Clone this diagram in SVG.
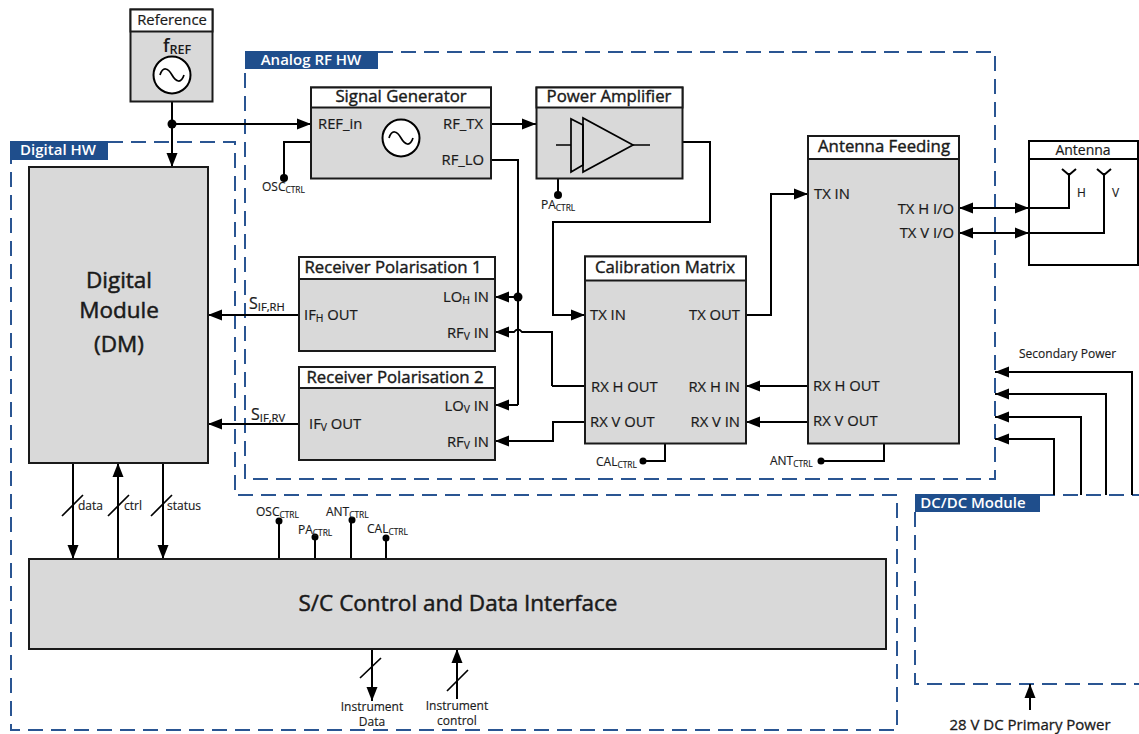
<svg xmlns="http://www.w3.org/2000/svg" width="1139" height="734" viewBox="0 0 1139 734">
<defs>
<marker id="a" markerUnits="userSpaceOnUse" markerWidth="15" markerHeight="12" refX="14" refY="6" orient="auto-start-reverse"><path d="M0 0.500L14 6L0 11.500Z" fill="#000"/></marker>
</defs>
<style>
text{font-family:"Open Sans","Noto Sans","Liberation Sans",sans-serif;fill:#1a1a1a}
.b{fill:#d9d9d9;stroke:#1a1a1a;stroke-width:2}
.w{fill:#fff;stroke:#1a1a1a;stroke-width:2}
.o{fill:#fff;stroke:#000;stroke-width:2}
.s{fill:none;stroke:#000;stroke-width:1.7}
.c{fill:none;stroke:#000;stroke-width:2}
.ar{marker-end:url(#a)}
.dash{fill:none;stroke:#2a5592;stroke-width:2;stroke-dasharray:15 8}
.lab{fill:#1f4e8c}
.lt{fill:#fff;font-size:15px;font-weight:600}
.t{font-size:16.8px;stroke:#1a1a1a;stroke-width:.4;text-anchor:middle}
.big{font-size:22.5px;stroke:#1a1a1a;stroke-width:.5;text-anchor:middle}
.p{font-size:14.8px;stroke:#1a1a1a;stroke-width:.2}
.sm{font-size:12px;stroke:#1a1a1a;stroke-width:.15}
.m{text-anchor:middle}
.e{text-anchor:end}
.sub{font-size:70%;baseline-shift:-20%}
.dot{fill:#000}
</style>
<g id="boundaries">
<path class="dash" d="M378 52H995V479H245V69"/>
<path class="dash" d="M108 142H235V495H897V730H11V160"/>
<path class="dash" d="M1040 495H1139M915 512V684H1139"/>
</g>
<g id="connectors">
<path class="c ar" d="M172 102V167"/>
<path class="c ar" d="M172 124H311"/>
<path class="c" d="M311 142H284V177"/>
<path class="c ar" d="M491 124H536"/>
<path class="c" d="M491 160H518V405"/>
<path class="c ar" d="M518 405H495"/>
<path class="c ar" d="M518 297H495"/>
<path class="c ar" d="M552 386V332H522Q518 327 514 332H495"/>
<path class="c" d="M585 386H552"/>
<path class="c ar" d="M585 422H553V441H495"/>
<path class="c ar" d="M683 142H710V222H553V315H585"/>
<path class="c ar" d="M746 315H771V194H808"/>
<path class="c ar" d="M808 386H746"/>
<path class="c ar" d="M808 422H746"/>
<path class="c" d="M665 444V461H643"/>
<path class="c" d="M884 444V461H821"/>
<path class="c ar" d="M299 315H208"/>
<path class="c ar" d="M299 424H208"/>
<path class="c ar" d="M73 463V559"/>
<path class="c ar" d="M118 559V463"/>
<path class="c ar" d="M163 463V559"/>
<path class="s" d="M62 516L83 495M108 516L129 495M151 516L172 495"/>
<path class="c" d="M279 559V521M315 559V537M351 559V521M386 559V538"/>
<path class="c ar" d="M372 649V701"/>
<path class="c ar" d="M457 699V649"/>
<path class="s" d="M360 678L381 658M447 691L468 670"/>
<path class="c ar" d="M1132 495V372H995"/>
<path class="c ar" d="M1106 495V394H995"/>
<path class="c ar" d="M1081 495V417H995"/>
<path class="c ar" d="M1054 495V439H995"/>
<path class="c ar" d="M1030 710V684"/>
<path class="c ar" d="M1029 208H959"/>
<path class="c ar" d="M959 208H1029"/>
<path class="c ar" d="M1029 233H959"/>
<path class="c ar" d="M959 233H1029"/>
<path class="c" d="M558 178V195"/>
<circle class="dot" cx="172" cy="124" r="4.500"/>
<circle class="dot" cx="284" cy="178" r="4"/>
<circle class="dot" cx="558" cy="195" r="4"/>
<circle class="dot" cx="518" cy="297" r="4.500"/>
<circle class="dot" cx="643" cy="461" r="3.500"/>
<circle class="dot" cx="821" cy="461" r="3.500"/>
<circle class="dot" cx="279" cy="521" r="3.500"/>
<circle class="dot" cx="315" cy="537" r="3.500"/>
<circle class="dot" cx="352" cy="520" r="3.500"/>
<circle class="dot" cx="386" cy="538" r="3.500"/>
</g>
<g id="label-analog"><rect class="lab" x="245" y="51" width="133" height="18"/><text class="lt" x="311" y="65" text-anchor="middle">Analog RF HW</text></g>
<g id="label-digital"><rect class="lab" x="10" y="141" width="98" height="19"/><text class="lt" x="58" y="155" text-anchor="middle">Digital HW</text></g>
<g id="label-dcdc"><rect class="lab" x="915" y="494" width="125" height="18"/><text class="lt" x="973" y="508" text-anchor="middle">DC/DC Module</text></g>
<g id="reference">
<rect class="b" x="130.500" y="9.500" width="82" height="92"/><rect class="w" x="130.500" y="9.500" width="82" height="22"/>
<text class="m" x="172" y="25" font-size="14.800" stroke="#1a1a1a" stroke-width=".2">Reference</text>
<text x="163" y="52" font-size="18" font-weight="600">f<tspan font-size="12.600" dy="2">REF</tspan></text>
<circle class="o" cx="172" cy="75" r="18.500"/><path class="s" d="M160 75C163 66 168 68 172 75S181 84 184 75"/>
</g>
<g id="signal-generator">
<rect class="b" x="311" y="87.500" width="180" height="91"/><rect class="w" x="311" y="87.500" width="180" height="20"/>
<text class="t" x="401" y="102">Signal Generator</text>
<text class="p" x="318" y="129">REF_in</text><text class="p e" x="483" y="129">RF_TX</text><text class="p e" x="484" y="165">RF_LO</text>
<circle class="o" cx="401" cy="138" r="18.500"/><path class="s" d="M389 138C392 129 397 131 401 138S410 147 413 138"/>
</g>
<g id="power-amplifier">
<rect class="b" x="536.500" y="87.500" width="146" height="91"/><rect class="w" x="536.500" y="87.500" width="146" height="20"/>
<text class="t" x="609" y="102">Power Amplifier</text>
<path d="M556 145H571M633 145H650" class="s"/>
<path class="s" d="M571 119V172L583 165V125Z"/>
<path class="s" d="M583 118V172L633 145Z"/>
</g>
<g id="antenna-feeding">
<rect class="b" x="808" y="136" width="151" height="307.500"/><rect class="w" x="808" y="136" width="151" height="23"/>
<text class="t" x="884" y="152">Antenna Feeding</text>
<text class="p" x="814" y="199">TX IN</text><text class="p e" x="954" y="214">TX H I/O</text><text class="p e" x="954" y="238">TX V I/O</text>
<text class="p" x="813" y="391">RX H OUT</text><text class="p" x="813" y="426">RX V OUT</text>
</g>
<g id="antenna">
<rect class="o" x="1029" y="141" width="109" height="124"/><path class="o" d="M1029 159H1138"/>
<text class="m" x="1083" y="155" font-size="14" stroke="#1a1a1a" stroke-width=".2">Antenna</text>
<path class="c" d="M1029 208H1069V173M1062 169L1069 175L1076 169M1029 233H1104V173M1097 169L1104 175L1111 169"/>
<text class="sm" x="1077" y="197">H</text><text class="sm" x="1112" y="197">V</text>
</g>
<g id="calibration-matrix">
<rect class="b" x="585" y="256.500" width="161" height="187"/><rect class="w" x="585" y="256.500" width="161" height="24"/>
<text class="t" x="665" y="273">Calibration Matrix</text>
<text class="p" x="590" y="320">TX IN</text><text class="p e" x="740" y="320">TX OUT</text>
<text class="p" x="591" y="392">RX H OUT</text><text class="p e" x="740" y="392">RX H IN</text>
<text class="p" x="590" y="427">RX V OUT</text><text class="p e" x="740" y="427">RX V IN</text>
</g>
<g id="receiver-1">
<rect class="b" x="299" y="257" width="196" height="94"/><rect class="w" x="299" y="257" width="196" height="22"/>
<text class="t" x="393" y="273">Receiver Polarisation 1</text>
<text class="p" x="304" y="320">IF<tspan class="sub">H</tspan> OUT</text>
<text class="p e" x="489" y="302">LO<tspan class="sub">H</tspan> IN</text><text class="p e" x="489" y="338">RF<tspan class="sub">V</tspan> IN</text>
</g>
<g id="receiver-2">
<rect class="b" x="299" y="367" width="196" height="93"/><rect class="w" x="299" y="367" width="196" height="21"/>
<text class="t" x="395" y="383">Receiver Polarisation 2</text>
<text class="p" x="309" y="429">IF<tspan class="sub">V</tspan> OUT</text>
<text class="p e" x="489" y="411">LO<tspan class="sub">V</tspan> IN</text><text class="p e" x="489" y="447">RF<tspan class="sub">V</tspan> IN</text>
</g>
<g id="digital-module">
<rect class="b" x="29" y="167" width="179" height="296"/>
<text class="big" x="119" y="288">Digital</text>
<text class="big" x="119" y="318">Module</text>
<text class="big" x="119" y="352">(DM)</text>
</g>
<g id="sc-interface">
<rect class="b" x="29" y="559" width="857" height="90"/>
<text class="big" x="458" y="611">S/C Control and Data Interface</text>
</g>
<g id="labels">
<text class="sm" x="262" y="191">OSC<tspan class="sub">CTRL</tspan></text>
<text class="sm" x="541" y="209">PA<tspan class="sub">CTRL</tspan></text>
<text class="sm" x="596" y="466">CAL<tspan class="sub">CTRL</tspan></text>
<text class="sm" x="770" y="465">ANT<tspan class="sub">CTRL</tspan></text>
<text class="sm" x="256" y="516">OSC<tspan class="sub">CTRL</tspan></text>
<text class="sm" x="298" y="534">PA<tspan class="sub">CTRL</tspan></text>
<text class="sm" x="326" y="516">ANT<tspan class="sub">CTRL</tspan></text>
<text class="sm" x="367" y="533">CAL<tspan class="sub">CTRL</tspan></text>
<text class="sm" x="78" y="510">data</text><text class="sm" x="124" y="510">ctrl</text><text class="sm" x="167" y="510">status</text>
<text x="249" y="309" font-size="16" stroke="#1a1a1a" stroke-width=".2">S<tspan class="sub">IF,RH</tspan></text>
<text x="251" y="420" font-size="16" stroke="#1a1a1a" stroke-width=".2">S<tspan class="sub">IF,RV</tspan></text>
<text class="sm m" x="372" y="711">Instrument</text><text class="sm m" x="372" y="726">Data</text>
<text class="sm m" x="457" y="710">Instrument</text><text class="sm m" x="457" y="725">control</text>
<text class="sm" x="1019" y="358">Secondary Power</text>
<text x="1030" y="730" text-anchor="middle" font-size="15" stroke="#1a1a1a" stroke-width=".3">28 V DC Primary Power</text>
</g>
</svg>
